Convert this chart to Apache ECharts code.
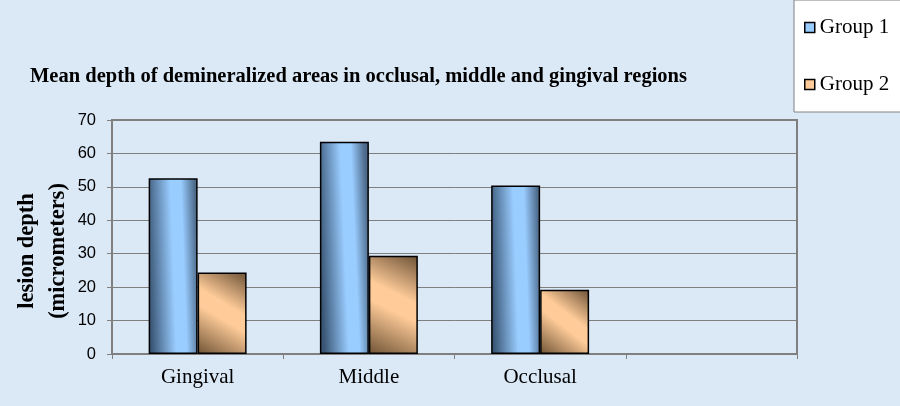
<!DOCTYPE html>
<html>
<head>
<meta charset="utf-8">
<script src="https://cdn.jsdelivr.net/npm/echarts@6/dist/echarts.min.js"></script>
<style>
html,body{margin:0;padding:0;background:#dbe8f6;}
#c{width:900px;height:406px;}
</style>
</head>
<body>
<div id="c"></div>
<script>
const categories = ['Gingival', 'Middle', 'Occlusal', ''];
const group1 = [52.6, 63.5, 50.4, null];
const group2 = [24.4, 29.4, 19.2, null];
const yTicks = { min: 0, max: 70, interval: 10 };
const titleText = 'Mean depth of demineralized areas in occlusal, middle and gingival regions';
const yName = 'lesion depth\n(micrometers)';

const serif = '"Liberation Serif", "Times New Roman", serif';
const sans = '"Liberation Sans", Arial, sans-serif';

const blueGrad = new echarts.graphic.LinearGradient(0, 0.505, 1, 0.495, [
  { offset: 0, color: '#3a5675' },
  { offset: 0.5, color: '#99ccff' },
  { offset: 0.72, color: '#99ccff' },
  { offset: 1, color: '#4d6a8a' }
]);
const orangeGrad = new echarts.graphic.LinearGradient(0, 1, 1, 0, [
  { offset: 0, color: '#6e5234' },
  { offset: 0.45, color: '#ffcc99' },
  { offset: 0.6, color: '#ffcc99' },
  { offset: 1, color: '#6b5035' }
]);

const chart = echarts.init(document.getElementById('c'));
chart.setOption({
  backgroundColor: '#dbe8f6',
  animation: false,
  title: {
    text: titleText,
    left: 25,
    top: 61,
    textStyle: { fontFamily: serif, fontWeight: 'bold', fontSize: 20.5, color: '#000' }
  },
  legend: {
    orient: 'vertical',
    left: 794,
    top: 0,
    padding: [17, 30, 17, 10],
    itemGap: 36,
    itemWidth: 10,
    itemHeight: 10,
    backgroundColor: '#ffffff',
    borderColor: '#808080',
    borderWidth: 1,
    textStyle: { fontFamily: serif, fontSize: 21, color: '#000', lineHeight: 20 },
    data: [
      { name: 'Group 1', icon: 'rect', itemStyle: { color: '#99ccff', borderColor: '#000', borderWidth: 1.5 } },
      { name: 'Group 2', icon: 'rect', itemStyle: { color: '#ffcc99', borderColor: '#000', borderWidth: 1.5 } }
    ]
  },
  grid: {
    left: 112, right: 103, top: 120, bottom: 52,
    containLabel: false,
    outerBoundsMode: 'none',
    show: true, borderColor: '#7f7f7f', borderWidth: 2, backgroundColor: 'transparent'
  },
  xAxis: {
    type: 'category',
    data: categories,
    axisLine: { lineStyle: { color: '#7f7f7f', width: 2 } },
    axisTick: { show: true, length: 5, lineStyle: { color: '#7f7f7f', width: 1 } },
    axisLabel: { fontFamily: serif, fontSize: 21, color: '#000', margin: 13 }
  },
  yAxis: {
    type: 'value',
    min: yTicks.min, max: yTicks.max, interval: yTicks.interval,
    name: yName,
    nameLocation: 'middle',
    nameRotate: 90,
    nameGap: 38,
    nameMoveOverlap: false,
    nameTextStyle: { fontFamily: serif, fontWeight: 'bold', fontSize: 22.5, color: '#000', lineHeight: 31, padding: [0, 28, 0, 0] },
    axisLine: { show: true, lineStyle: { color: '#7f7f7f', width: 2 } },
    axisTick: { show: true, length: 5, lineStyle: { color: '#7f7f7f' } },
    axisLabel: { fontFamily: sans, fontSize: 16.5, color: '#000', margin: 16 },
    splitLine: { lineStyle: { color: '#7f7f7f', width: 1 } }
  },
  series: [
    {
      name: 'Group 1', type: 'bar', data: group1,
      barWidth: '28.6%', barGap: '0%',
      itemStyle: { color: blueGrad, borderColor: '#000', borderWidth: 1.5 }
    },
    {
      name: 'Group 2', type: 'bar', data: group2,
      barWidth: '28.6%', barGap: '0%',
      itemStyle: { color: orangeGrad, borderColor: '#000', borderWidth: 1.5 }
    }
  ]
});
</script>
</body>
</html>
